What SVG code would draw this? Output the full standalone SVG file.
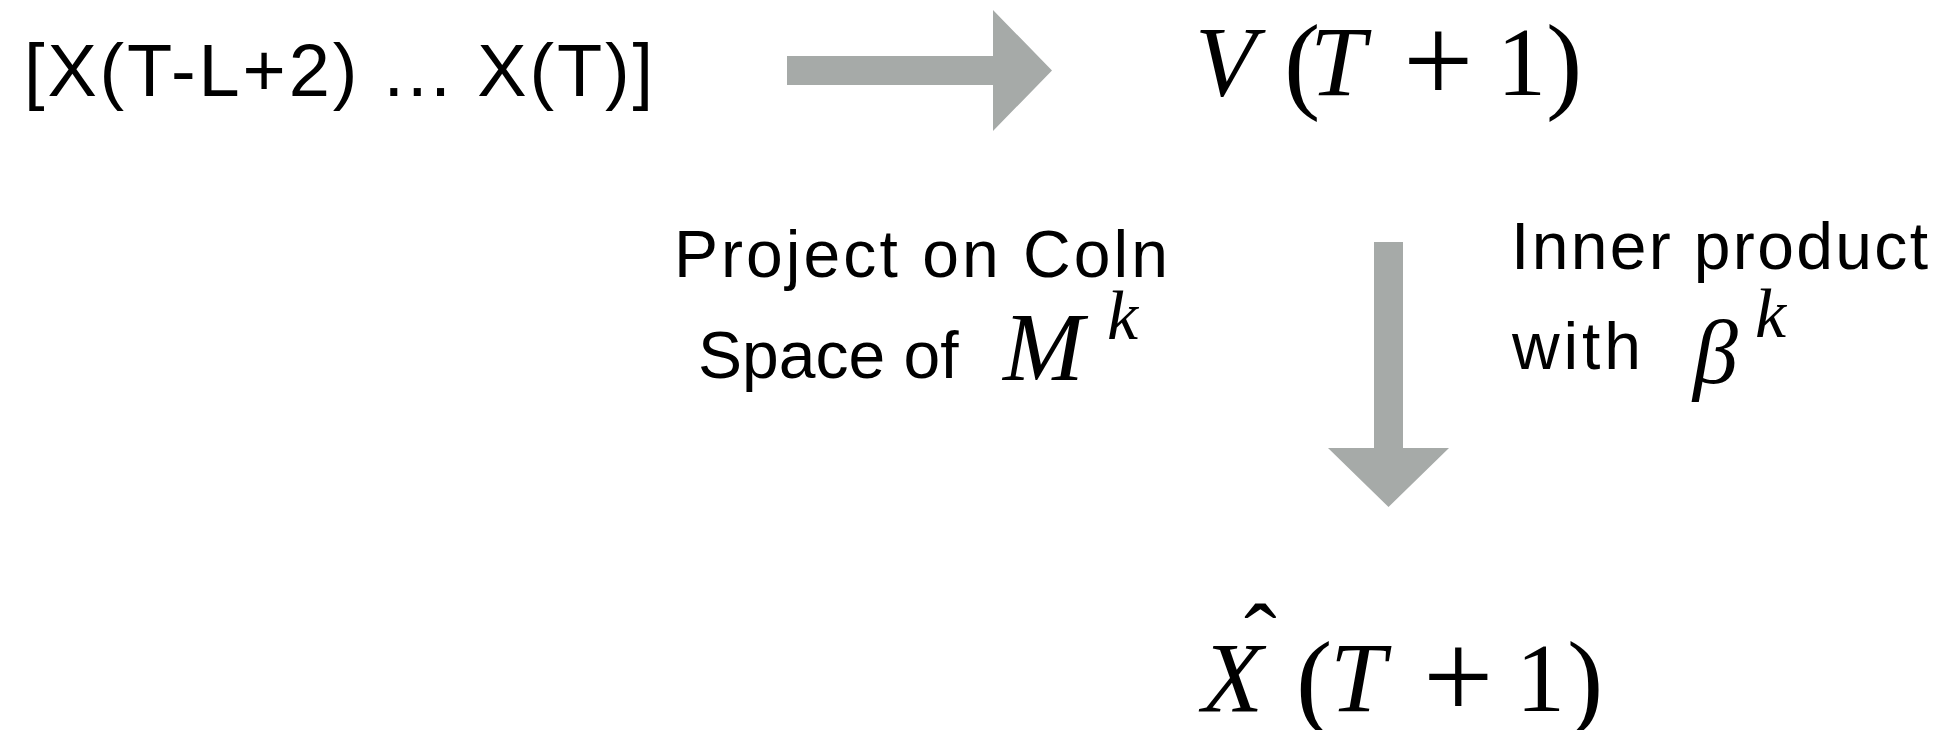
<svg xmlns="http://www.w3.org/2000/svg" width="1940" height="730" viewBox="0 0 1940 730">
<style>
.sans{font-family:"Liberation Sans",Arial,sans-serif;fill:#000}
.cmss{font-family:"Liberation Sans",Arial,sans-serif;font-size:66px;fill:#000}
.math{font-family:"Liberation Serif","Times New Roman",serif;fill:#000}
.it{font-style:italic}
.arrow{fill:#a6aaa8;stroke:none}
</style>
<rect width="1940" height="730" fill="#ffffff"/>
<g id="connectors">
<polygon class="arrow" points="787,56 993,56 993,10 1052,70.5 993,131 993,85 787,85"/>
<polygon class="arrow" points="1374,242 1403,242 1403,448 1449,448 1388.5,507 1328,448 1374,448"/>
</g>
<g id="node-input">
<text class="sans" x="24" y="96" font-size="74" textLength="629" lengthAdjust="spacing">[X(T-L+2) ... X(T)]</text>
</g>
<g id="node-v">
<text class="math" y="95" font-size="100"><tspan class="it" x="1195">V</tspan><tspan x="1284" y="99" font-size="109">(</tspan><tspan class="it" x="1310" y="95" font-size="100">T</tspan><tspan x="1403" y="102" font-size="125">+</tspan><tspan x="1497" y="95" font-size="98">1</tspan><tspan x="1546" y="99" font-size="109">)</tspan></text>
</g>
<g id="label-project">
<text class="cmss" x="674" y="277" textLength="494" lengthAdjust="spacing">Project on Coln</text>
<text class="cmss" x="698" y="378">Space of</text>
<text class="math it" x="1003" y="380" font-size="97">M</text>
<text class="math it" x="1107" y="339" font-size="70">k</text>
</g>
<g id="label-inner">
<text class="cmss" x="1511" y="269" textLength="417" lengthAdjust="spacing">Inner product</text>
<text class="cmss" x="1512" y="369" textLength="129" lengthAdjust="spacing">with</text>
<text class="math it" x="1693" y="383" font-size="90">β</text>
<text class="math it" x="1755" y="337" font-size="70">k</text>
</g>
<g id="node-xhat">
<text class="math" y="711" font-size="100"><tspan class="it" x="1202">X</tspan><tspan x="1296" y="716" font-size="109">(</tspan><tspan class="it" x="1330" y="711" font-size="100">T</tspan><tspan x="1423" y="718" font-size="125">+</tspan><tspan x="1516" y="711" font-size="98">1</tspan><tspan x="1567" y="716" font-size="109">)</tspan></text>
<text class="math" x="1244" y="671" font-size="98">ˆ</text>
</g>
</svg>
